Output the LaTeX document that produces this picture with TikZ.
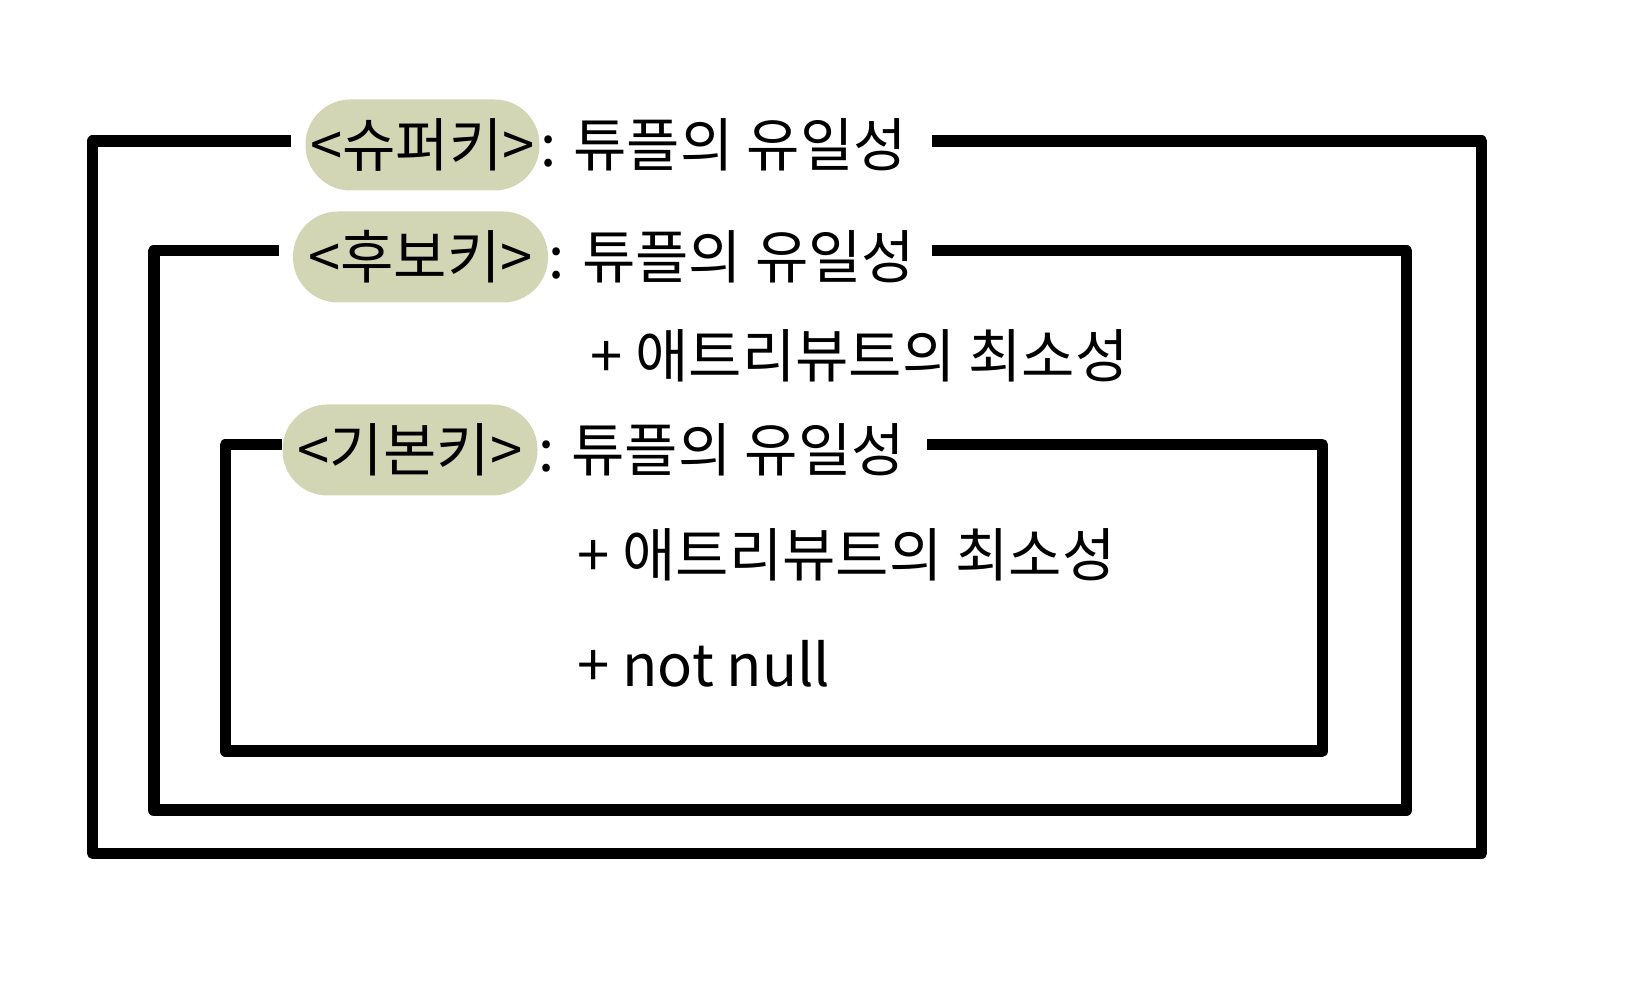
\documentclass[tikz,border=0pt]{standalone}
\usepackage{fontspec}
\setmainfont{Noto Sans CJK KR}
\usepackage{xcolor}
\usepackage{tikz}
\usetikzlibrary{positioning}
\definecolor{pillgreen}{HTML}{D2D6B4}

\begin{document}
\begin{tikzpicture}[
    keypill/.style={fill=pillgreen, rounded corners=0.9cm, minimum height=1.82cm, inner sep=1pt, font=\fontsize{33}{40}\selectfont},
    keytxt/.style={anchor=west, inner sep=0pt, font=\fontsize{33}{40}\selectfont},
    frame/.style={line width=6.5pt, line join=round}
]
\useasboundingbox (0,0) rectangle (33.04,19.98);

\draw[frame] (18.63,17.156) -| (29.63,2.912) -| (1.854,17.156) -- (5.816,17.156);
\draw[frame] (18.63,14.964) -| (28.13,3.776) -| (3.076,14.964) -- (5.584,14.964);
\draw[frame] (18.54,11.088) -| (26.446,4.956) -| (4.51,11.088) -- (5.648,11.088);

\node[keypill, minimum width=4.68cm] (suppill) at (8.45,17.08) {<슈퍼키>};
\node[keytxt] (suptxt) at (suppill.east) {: 튜플의 유일성};

\node[keypill, minimum width=5.1cm] (candpill) at (8.41,14.84) {<후보키>};
\node[keytxt] (candtxt) at (candpill.east) {: 튜플의 유일성};
\node[keytxt] (candmin) at (11.8,12.86) {+ 애트리뷰트의 최소성};

\node[keypill, minimum width=5.1cm] (pripill) at (8.2,10.98) {<기본키>};
\node[keytxt] (pritxt) at (pripill.east) {: 튜플의 유일성};
\node[keytxt] (primin) at (11.54,8.88) {+ 애트리뷰트의 최소성};
\node[keytxt] (prinull) at (11.54,6.7) {+ not null};
\end{tikzpicture}
\end{document}
